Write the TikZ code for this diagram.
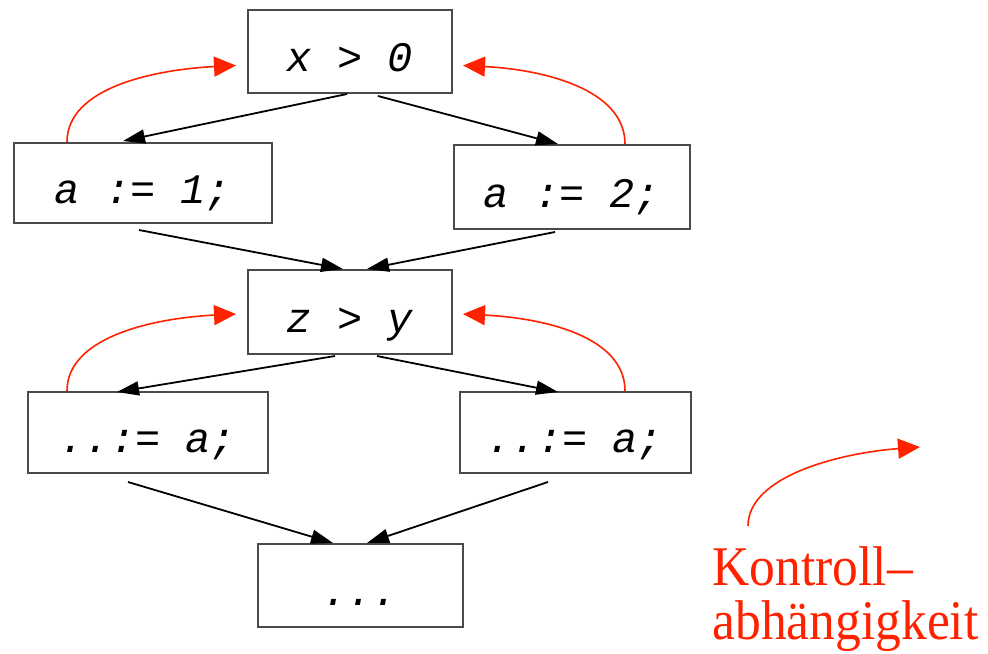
\documentclass[tikz,border=0pt]{standalone}
\usepackage{fontspec}
\setmainfont{Liberation Serif}
\newfontfamily\codefont{Liberation Mono}
\newfontfamily\legendfont[FakeStretch=0.92]{Liberation Serif}
\usepackage{tikz}
\usetikzlibrary{arrows.meta, calc}
\definecolor{ctrlred}{HTML}{FF2200}
\definecolor{boxgray}{HTML}{4A4A4A}

\begin{document}
\begin{tikzpicture}[x=0.5pt, y=-0.5pt,
    block/.style={draw=boxgray, line width=1pt, inner sep=0pt,
        text height=20pt, text depth=0pt,
        font=\codefont\itshape\fontsize{21}{24}\selectfont},
    flow/.style={-{Triangle[length=11pt,width=7pt]}, line width=0.9pt},
    ctrl/.style={-{Triangle[length=11pt,width=10pt]}, ctrlred, line width=0.8pt}]
    \useasboundingbox (0,0) rectangle (988,653);
    % blocks
    \node[block, minimum width=102pt, minimum height=41.5pt] (x0) at (350,51.5) {x > 0};
    \node[block, minimum width=129pt, minimum height=40pt] (a1) at (143,183) {a := 1;};
    \node[block, minimum width=118pt, minimum height=42pt] (a2) at (572,187) {a := 2;};
    \node[block, minimum width=102pt, minimum height=42pt] (zy) at (350,312) {z > y};
    \node[block, minimum width=120pt, minimum height=40.5pt] (u1) at (148,432.5) {..:= a;};
    \node[block, minimum width=115.5pt, minimum height=40.5pt] (u2) at (575,432.5) {..:= a;};
    \node[block, minimum width=102.5pt, minimum height=41.5pt] (end) at (360,585.5) {...};
    % control flow
    \draw[flow] ($(x0.south)+(-3,0)$) -- ($(a1.north)+(-20,-1)$);
    \draw[flow] ($(x0.south)+(28,2)$) -- ($(a2.north)+(-14,0)$);
    \draw[flow] ($(a1.south)+(-4,6)$) -- ($(zy.north)+(-7,0)$);
    \draw[flow] ($(a2.south)+(-17,2)$) -- ($(zy.north)+(17,0)$);
    \draw[flow] ($(zy.south)+(-15,1)$) -- ($(u1.north)+(-31,1)$);
    \draw[flow] ($(zy.south)+(27,1)$) -- ($(u2.north)+(-17,1)$);
    \draw[flow] ($(u1.south)+(-20,8)$) -- ($(end.north)+(-27,0)$);
    \draw[flow] ($(u2.south)+(-27,8)$) -- ($(end.north)+(7,0)$);
    % control dependence
    \draw[ctrl] ($(a1.north)+(-76,0)$) .. controls +(0,-55) and +(-80,4) .. ($(x0.west)+(-11,14)$);
    \draw[ctrl] ($(a2.north)+(53,0)$) .. controls +(0,-55) and +(80,4) .. ($(x0.east)+(10,14)$);
    \draw[ctrl] ($(u1.north)+(-81,0)$) .. controls +(0,-55) and +(-80,4) .. ($(zy.west)+(-11,2)$);
    \draw[ctrl] ($(u2.north)+(50,0)$) .. controls +(0,-55) and +(80,4) .. ($(zy.east)+(10,2)$);
    % legend
    \node[ctrlred, inner sep=0pt, anchor=north west, align=left,
        font=\legendfont\fontsize{28}{27}\selectfont] (legend) at (712,546) {Kontroll–\\abhängigkeit};
    \coordinate (ls) at (748,526);
    \coordinate (le) at (920,447);
    \draw[ctrl] (ls) .. controls +(0,-50) and +(-80,6) .. (le);
\end{tikzpicture}
\end{document}
